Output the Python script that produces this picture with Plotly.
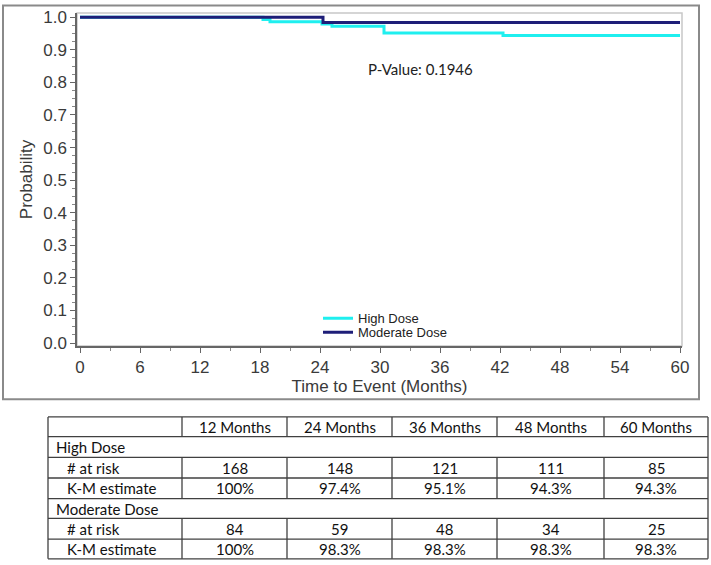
import plotly.graph_objects as go

# ---------------- data ----------------
high_t = [0, 18.3, 19.0, 24.2, 25.2, 30.4, 42.3, 60]
high_s = [1.0, 0.993, 0.986, 0.979, 0.972, 0.952, 0.944, 0.944]
mod_t = [0, 24.3, 60]
mod_s = [1.0, 0.984, 0.984]

x_ticks = [0, 6, 12, 18, 24, 30, 36, 42, 48, 54, 60]
y_ticks = [0.0, 0.1, 0.2, 0.3, 0.4, 0.5, 0.6, 0.7, 0.8, 0.9, 1.0]
p_value_text = "P-Value: 0.1946"

table_cols = ["12 Months", "24 Months", "36 Months", "48 Months", "60 Months"]
high_risk = ["168", "148", "121", "111", "85"]
high_km = ["100%", "97.4%", "95.1%", "94.3%", "94.3%"]
mod_risk = ["84", "59", "48", "34", "25"]
mod_km = ["100%", "98.3%", "98.3%", "98.3%", "98.3%"]

HIGH_COLOR = "#1FEFEF"
MOD_COLOR = "#1E1E78"

# ---------------- geometry helpers (pixels -> paper) ----------------
W, H = 711, 565
L, R, T, B = 77, 682, 8, 346


def px(x):
    return (x - L) / (R - L)


def py(y):
    return (B - y) / (B - T)


fig = go.Figure()
fig.add_trace(go.Scatter(x=high_t, y=high_s, mode="lines", name="High Dose", legend="legend",
                         line=dict(color=HIGH_COLOR, width=3, shape="hv")))
fig.add_trace(go.Scatter(x=mod_t, y=mod_s, mode="lines", name="Moderate Dose", legend="legend2",
                         line=dict(color=MOD_COLOR, width=3, shape="hv")))

axis_font = dict(family="Liberation Sans, Arial", size=17, color="#3a3a3a")

shapes = []
annotations = []

# outer chart frame
shapes.append(dict(type="rect", xref="paper", yref="paper",
                   x0=px(3), x1=px(699), y0=py(400), y1=py(0.5),
                   line=dict(color="#8a8a8a", width=2), layer="below"))
# plot frame top/right (light)
shapes.append(dict(type="rect", xref="paper", yref="paper", x0=0, x1=1, y0=0, y1=1,
                   line=dict(color="#c8c8c8", width=1.5), layer="below"))

annotations.append(dict(x=28.6, y=0.841, xref="x", yref="y", text=p_value_text,
                        showarrow=False, xanchor="left", yanchor="middle",
                        font=dict(family="Lato, Carlito, Calibri", size=15, color="#222222")))

# ---------------- table ----------------
col_x = [48, 182, 287, 392, 497, 604, 708]
row_y = [418, 438, 459, 480, 501, 521, 542, 562]
line_col = "#404040"
tfont = dict(family="Lato, Carlito, Calibri", size=15, color="#111111")


def hline(y, x0, x1):
    shapes.append(dict(type="line", xref="paper", yref="paper",
                       x0=px(x0), x1=px(x1), y0=py(y), y1=py(y),
                       line=dict(color=line_col, width=1.3)))


def vline(x, y0, y1):
    shapes.append(dict(type="line", xref="paper", yref="paper",
                       x0=px(x), x1=px(x), y0=py(y0), y1=py(y1),
                       line=dict(color=line_col, width=1.3)))


for y in row_y:
    hline(y, col_x[0], col_x[-1])
vline(col_x[0], row_y[0], row_y[-1])
vline(col_x[-1], row_y[0], row_y[-1])
# internal verticals, skipping group rows (index 1 and 4)
for r in range(7):
    if r in (1, 4):
        continue
    for x in col_x[1:-1]:
        vline(x, row_y[r], row_y[r + 1])


def cell_text(text, r, c, align="center", indent=0):
    yc = (row_y[r] + row_y[r + 1]) / 2
    if align == "center":
        xc = (col_x[c] + col_x[c + 1]) / 2
        xa = "center"
    else:
        xc = col_x[c] + indent
        xa = "left"
    annotations.append(dict(x=px(xc), y=py(yc), xref="paper", yref="paper", text=text,
                            showarrow=False, xanchor=xa, yanchor="middle", font=tfont))


for i, c in enumerate(table_cols):
    cell_text(c, 0, i + 1)
cell_text("High Dose", 1, 0, "left", 6)
cell_text("# at risk", 2, 0, "left", 17)
cell_text("K-M estimate", 3, 0, "left", 17)
cell_text("Moderate Dose", 4, 0, "left", 6)
cell_text("# at risk", 5, 0, "left", 17)
cell_text("K-M estimate", 6, 0, "left", 17)
for i in range(5):
    cell_text(high_risk[i], 2, i + 1)
    cell_text(high_km[i], 3, i + 1)
    cell_text(mod_risk[i], 5, i + 1)
    cell_text(mod_km[i], 6, i + 1)

leg_font = dict(family="Liberation Sans, Arial", size=13, color="#222222")

fig.update_layout(
    width=W, height=H,
    margin=dict(l=L, r=W - R, t=T, b=H - B),
    paper_bgcolor="white", plot_bgcolor="white",
    showlegend=True,
    legend=dict(x=px(318), y=py(318), xanchor="left", yanchor="middle",
                bgcolor="rgba(0,0,0,0)", font=leg_font, itemwidth=30, tracegroupgap=0),
    legend2=dict(x=px(318), y=py(332), xanchor="left", yanchor="middle",
                 bgcolor="rgba(0,0,0,0)", font=leg_font, itemwidth=30, tracegroupgap=0),
    shapes=shapes,
    annotations=annotations,
    xaxis=dict(range=[-0.3, 60.2], tickvals=x_ticks, ticks="outside", ticklen=5,
               tickcolor="#666666", showline=True, linecolor="#666666", linewidth=1.5,
               showgrid=False, zeroline=False, tickfont=axis_font,
               title=dict(text="Time to Event (Months)", font=axis_font, standoff=2),
               minor=dict(dtick=3, ticks="outside", ticklen=3, tickcolor="#888888")),
    yaxis=dict(range=[-0.009, 1.013], tickvals=y_ticks, tickformat=".1f", ticks="outside",
               ticklen=5, tickcolor="#666666", showline=True, linecolor="#666666", linewidth=1.5,
               showgrid=False, zeroline=False, tickfont=axis_font,
               title=dict(text="Probability", font=axis_font, standoff=6),
               minor=dict(dtick=0.025, ticks="outside", ticklen=3, tickcolor="#888888")),
)

fig.write_html("out.html", config={"displayModeBar": False},
               post_script="document.body.style.margin='0';")
